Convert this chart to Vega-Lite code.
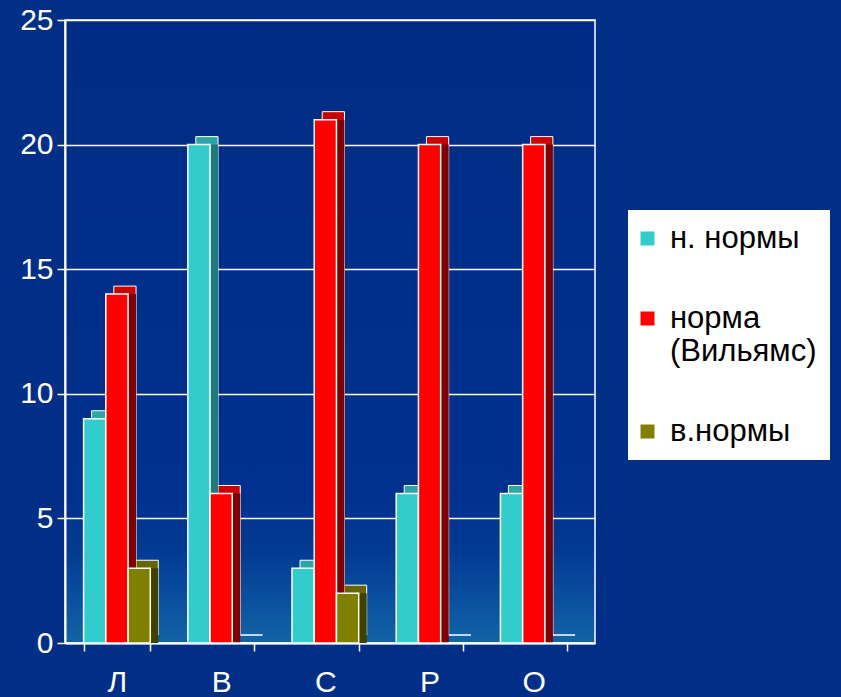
{
  "$schema": "https://vega.github.io/schema/vega-lite/v6.json",
  "width": 530,
  "height": 623,
  "autosize": {"type": "none"},
  "padding": {"left": 65, "top": 20, "right": 246, "bottom": 54},
  "background": "#012f88",
  "config": {
    "font": "Liberation Sans",
    "view": {
      "stroke": "white",
      "strokeWidth": 1.5,
      "fill": {
        "gradient": "linear",
        "x1": 0, "y1": 0, "x2": 0, "y2": 1,
        "stops": [
          {"offset": 0, "color": "#002c84"},
          {"offset": 0.77, "color": "#00318f"},
          {"offset": 0.85, "color": "#023a93"},
          {"offset": 0.93, "color": "#0a4f9f"},
          {"offset": 1, "color": "#1264a6"}
        ]
      }
    }
  },
  "data": {
    "values": [
      {"cat": "Л", "series": "н. нормы", "value": 9},
      {"cat": "Л", "series": "норма (Вильямс)", "value": 14},
      {"cat": "Л", "series": "в.нормы", "value": 3},
      {"cat": "В", "series": "н. нормы", "value": 20},
      {"cat": "В", "series": "норма (Вильямс)", "value": 6},
      {"cat": "В", "series": "в.нормы", "value": 0},
      {"cat": "С", "series": "н. нормы", "value": 3},
      {"cat": "С", "series": "норма (Вильямс)", "value": 21},
      {"cat": "С", "series": "в.нормы", "value": 2},
      {"cat": "Р", "series": "н. нормы", "value": 6},
      {"cat": "Р", "series": "норма (Вильямс)", "value": 20},
      {"cat": "Р", "series": "в.нормы", "value": 0},
      {"cat": "О", "series": "н. нормы", "value": 6},
      {"cat": "О", "series": "норма (Вильямс)", "value": 20},
      {"cat": "О", "series": "в.нормы", "value": 0}
    ]
  },
  "encoding": {
    "x": {
      "field": "cat",
      "type": "nominal",
      "sort": ["Л", "В", "С", "Р", "О"],
      "scale": {"paddingInner": 0.36, "paddingOuter": 0.223, "align": 0.4},
      "axis": {
        "title": null,
        "labelAngle": 0,
        "labelColor": "white",
        "labelFontSize": 30,
        "labelPadding": 16,
        "domainColor": "white",
        "domainWidth": 2,
        "tickColor": "white",
        "tickWidth": 1.5,
        "tickSize": 8,
        "tickBand": "extent"
      }
    },
    "y": {
      "field": "value",
      "type": "quantitative",
      "scale": {"domain": [0, 25]},
      "axis": {
        "title": null,
        "values": [0, 5, 10, 15, 20, 25],
        "grid": true,
        "gridColor": "white",
        "gridWidth": 1.5,
        "gridOpacity": 1,
        "labelColor": "white",
        "labelFontSize": 30,
        "labelPadding": 4,
        "domainColor": "white",
        "domainWidth": 2,
        "tickColor": "white",
        "tickWidth": 1.5,
        "tickSize": 8
      }
    }
  },
  "layer": [
    {
      "mark": {"type": "bar", "yOffset": -8, "stroke": "white", "strokeWidth": 1},
      "encoding": {
        "xOffset": {
          "field": "series",
          "sort": ["н. нормы", "норма (Вильямс)", "в.нормы"],
          "scale": {"paddingInner": 0, "paddingOuter": 0, "range": [8, {"expr": "bandwidth('x') + 8"}]}
        },
        "color": {
          "field": "series",
          "type": "nominal",
          "scale": {"domain": ["н. нормы", "норма (Вильямс)", "в.нормы"], "range": ["#2aa6a6", "#cc0000", "#666600"]},
          "legend": null
        }
      }
    },
    {
      "mark": {"type": "bar"},
      "encoding": {
        "xOffset": {
          "field": "series",
          "sort": ["н. нормы", "норма (Вильямс)", "в.нормы"],
          "scale": {"paddingInner": 0, "paddingOuter": 0, "range": [8, {"expr": "bandwidth('x') + 8"}]}
        },
        "color": {
          "field": "series",
          "type": "nominal",
          "scale": {"domain": ["н. нормы", "норма (Вильямс)", "в.нормы"], "range": ["#1f7a7a", "#800000", "#404000"]},
          "legend": null
        }
      }
    },
    {
      "mark": {"type": "bar", "stroke": "white", "strokeWidth": 1.5},
      "encoding": {
        "xOffset": {
          "field": "series",
          "sort": ["н. нормы", "норма (Вильямс)", "в.нормы"],
          "scale": {"paddingInner": 0, "paddingOuter": 0}
        },
        "color": {
          "field": "series",
          "type": "nominal",
          "scale": {"domain": ["н. нормы", "норма (Вильямс)", "в.нормы"], "range": ["#33cccc", "#ff0000", "#808000"]},
          "legend": {
            "title": null,
            "orient": "none",
            "legendX": 563,
            "legendY": 190,
            "fillColor": "white",
            "padding": 13,
            "rowPadding": 48,
            "labelColor": "black",
            "labelFontSize": 31,
            "labelLimit": 300,
            "labelOffset": 7,
            "symbolOffset": -9,
            "symbolType": "square",
            "symbolSize": 196,
            "symbolStrokeWidth": 0,
            "labelExpr": "datum.label == 'норма (Вильямс)' ? ['норма', '(Вильямс)'] : datum.label",
            "labels": {"update": {"lineHeight": {"value": 37}}}
          }
        }
      }
    }
  ],
  "resolve": {"scale": {"color": "independent", "xOffset": "independent"}}
}
